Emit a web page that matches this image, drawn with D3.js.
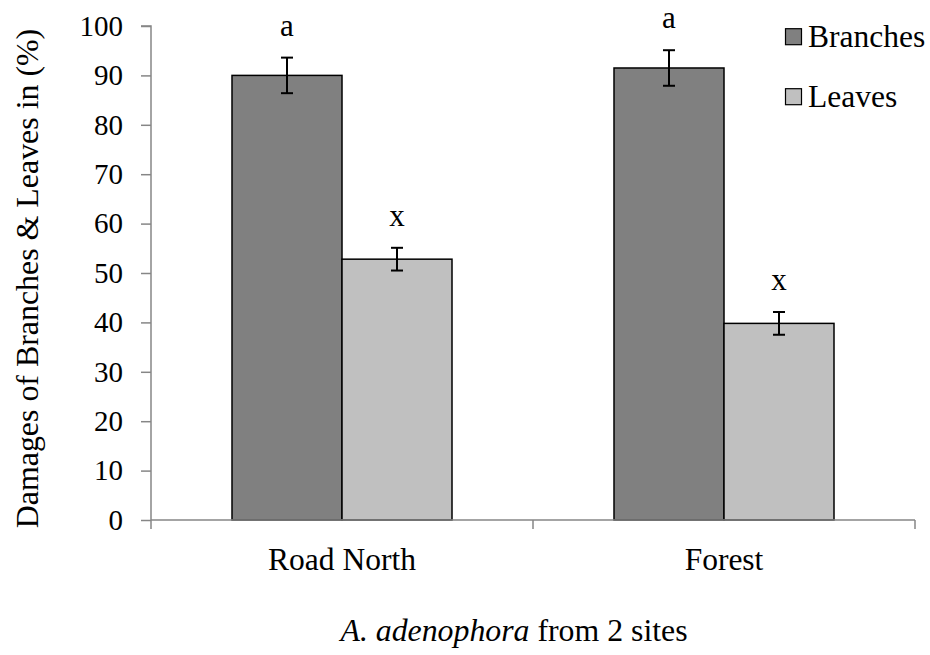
<!DOCTYPE html>
<html><head><meta charset="utf-8">
<script src="https://cdn.jsdelivr.net/npm/d3@7"></script>
<style>body{margin:0;background:#fff}svg{display:block}
svg text{font-family:"Liberation Serif","Times New Roman",Times,"DejaVu Serif","Noto Serif",serif !important;fill:#000}</style>
</head><body><svg id="c" width="930" height="655"></svg>
<script>
const categories = ["Road North", "Forest"];
const seriesNames = ["Branches", "Leaves"];
const branches = [90.0, 91.5];
const branchesErr = [3.6, 3.6];
const leaves = [52.8, 39.8];
const leavesErr = [2.3, 2.3];
const letters = [["a", "x"], ["a", "x"]];
const yTicks = [0, 10, 20, 30, 40, 50, 60, 70, 80, 90, 100];
const colors = ["#808080", "#c0c0c0"];

const svg = d3.select("#c");
const m = {l: 151, r: 15, t: 26, b: 135};
const W = 930, H = 655;
const x = d3.scaleBand().domain(categories).range([m.l, W - m.r]);
const y = d3.scaleLinear().domain([0, 100]).range([H - m.b, m.t]);
const barW = 110;
const inner = d3.scaleBand().domain(seriesNames).range([0, barW * 2]);

const data = [];
categories.forEach((c, i) => {
  data.push({c, s: "Branches", v: branches[i], e: branchesErr[i], l: letters[i][0], k: 0});
  data.push({c, s: "Leaves", v: leaves[i], e: leavesErr[i], l: letters[i][1], k: 1});
});

// y axis
const ya = svg.append("g").attr("transform", `translate(${m.l},0)`)
  .call(d3.axisLeft(y).tickValues(yTicks).tickSize(10).tickPadding(18).tickFormat(d3.format("d")));
ya.attr("font-family", null);
ya.select(".domain").attr("stroke", "#868686").attr("stroke-width", 1.5).attr("d", `M0,${y(0)}V${y(100)}H-10`);
ya.selectAll(".tick line").attr("stroke", "#868686").attr("stroke-width", 1.5);
ya.selectAll(".tick text").attr("font-size", 29);

const xOff = d => x(d.c) + (x.bandwidth() - barW * 2) / 2 + inner(d.s);

// bars
svg.append("g").selectAll("rect").data(data).join("rect")
  .attr("x", xOff).attr("y", d => y(d.v)).attr("width", barW).attr("height", d => y(0) - y(d.v))
  .attr("fill", d => colors[d.k]).attr("stroke", "#000").attr("stroke-width", 1.5);

// x axis
const xa = svg.append("g").attr("transform", `translate(0,${y(0)})`)
  .call(d3.axisBottom(x).tickSize(0).tickPadding(0).tickFormat(""));
xa.select(".domain").attr("stroke", "#868686").attr("stroke-width", 1.5).attr("d", `M${m.l},0H${W - m.r}`);
const bounds = [m.l, ...categories.map(c => x(c) + x.bandwidth())];
svg.append("g").selectAll("line").data(bounds).join("line")
  .attr("x1", d => d).attr("x2", d => d).attr("y1", y(0)).attr("y2", y(0) + 9)
  .attr("stroke", "#868686").attr("stroke-width", 1.5);
svg.append("g").selectAll("text").data(categories).join("text")
  .attr("x", d => x(d) + x.bandwidth() / 2).attr("y", 570).attr("text-anchor", "middle")
  .attr("font-size", 31.5).text(d => d);

// error bars
const eb = svg.append("g").attr("stroke", "#000").attr("stroke-width", 2);
data.forEach(d => {
  const cx = xOff(d) + barW / 2;
  eb.append("line").attr("x1", cx).attr("x2", cx).attr("y1", y(d.v + d.e)).attr("y2", y(d.v - d.e));
  eb.append("line").attr("x1", cx - 6).attr("x2", cx + 6).attr("y1", y(d.v + d.e)).attr("y2", y(d.v + d.e));
  eb.append("line").attr("x1", cx - 6).attr("x2", cx + 6).attr("y1", y(d.v - d.e)).attr("y2", y(d.v - d.e));
});
svg.append("g").selectAll("text").data(data).join("text")
  .attr("x", d => xOff(d) + barW / 2).attr("y", d => y(d.v + d.e) - 22)
  .attr("text-anchor", "middle").attr("font-size", 31).text(d => d.l);

// legend
const lg = svg.append("g");
seriesNames.forEach((s, i) => {
  const cy = 36.7 + i * 60;
  lg.append("rect").attr("x", 785.5).attr("y", cy - 8).attr("width", 16).attr("height", 16)
    .attr("fill", colors[i]).attr("stroke", "#000").attr("stroke-width", 1.2);
  lg.append("text").attr("x", 808).attr("y", cy + 10).attr("font-size", 31.5).text(s);
});

// axis titles
svg.append("text").attr("transform", `translate(37.5,278.5) rotate(-90)`)
  .attr("text-anchor", "middle").attr("font-size", 31.9).text("Damages of Branches & Leaves in (%)");
const xt = svg.append("text").attr("x", 514).attr("y", 641).attr("text-anchor", "middle").attr("font-size", 31.8);
xt.append("tspan").attr("font-style", "italic").text("A. adenophora");
xt.append("tspan").text(" from 2 sites");
</script></body></html>
